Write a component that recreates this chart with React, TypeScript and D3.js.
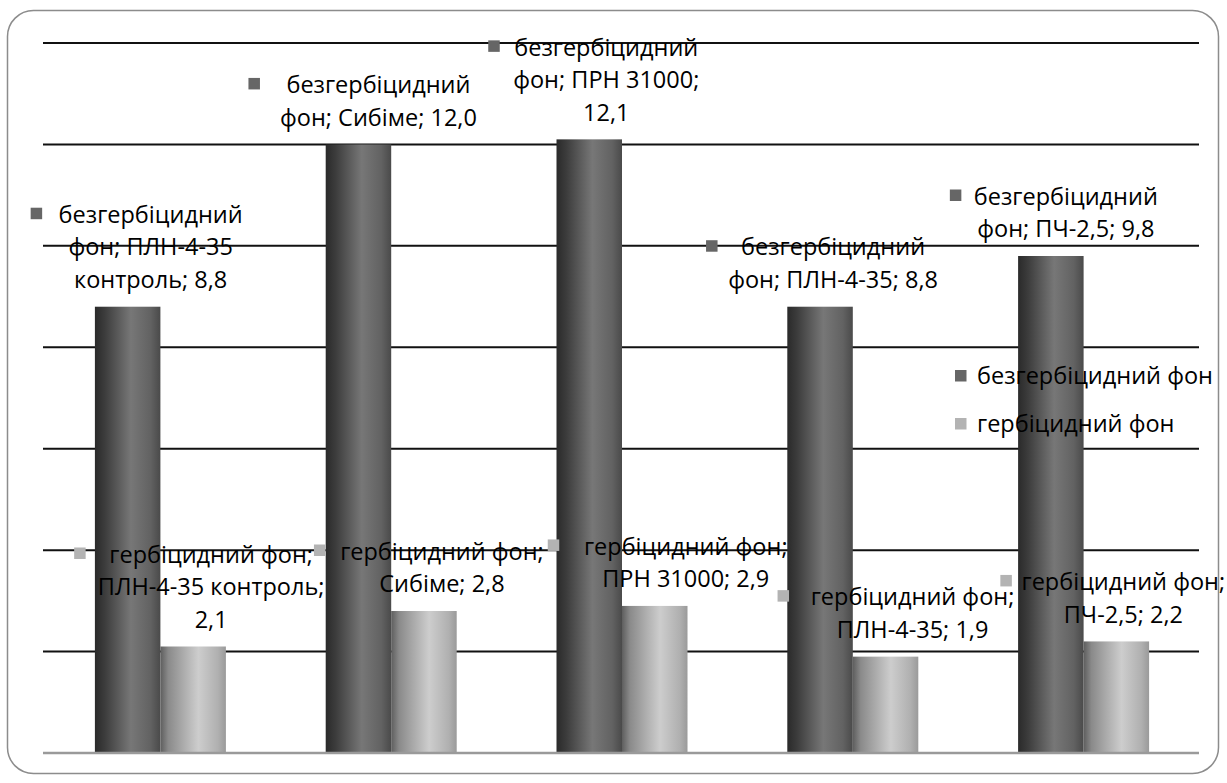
import React from "react";
import * as d3 from "d3";

const categories = ["ПЛН-4-35 контроль", "Сибіме", "ПРН 31000", "ПЛН-4-35", "ПЧ-2,5"];
const seriesNames = ["безгербіцидний фон", "гербіцидний фон"];
const valuesNoHerb = [8.8, 12.0, 12.1, 8.8, 9.8];
const valuesHerb = [2.1, 2.8, 2.9, 1.9, 2.2];
const yTicks = [0, 2, 4, 6, 8, 10, 12, 14];

// label layout: word indices where lines break, text-centre offset and key offset
const breaksNoHerb = [[1, 3], [1], [1, 4], [1], [1]];
const breaksHerb = [[2, 4], [2], [2], [2], [2]];
const dxNoHerb = [23, 20, 17, 13, 15];
const dxHerb = [18, 18, 31, 27, 7];
const keyNoHerb = [-120, -130, -118, -127, -116];
const keyHerb = [-137, -128, -138, -135, -123];

const W = 1227;
const H = 783;
const FONT = "'Open Sans', 'Noto Sans', sans-serif";
const FS = 23.5;
const LINE = 32.5;

const fmt = (v: number) => v.toFixed(1).replace(".", ",");

function wrap(text: string, breaks: number[]): string[] {
  const words = text.split(" ");
  const lines: string[] = [];
  let start = 0;
  for (const b of [...breaks, words.length]) {
    lines.push(words.slice(start, b).join(" "));
    start = b;
  }
  return lines;
}

export default function App() {
  const x = d3.scaleBand<string>().domain(categories).range([45, 1199]).paddingInner(0).paddingOuter(0);
  const y = d3.scaleLinear().domain([0, 14]).range([753, 43]);
  const barW = 65.5;
  const series = [valuesNoHerb, valuesHerb];
  const fills = ["url(#gDark)", "url(#gLight)"];
  const keyColors = ["#666666", "#b3b3b3"];
  const breaks = [breaksNoHerb, breaksHerb];
  const dxs = [dxNoHerb, dxHerb];
  const keys = [keyNoHerb, keyHerb];

  const barX = (ci: number, si: number) => {
    const c = x(categories[ci])! + x.bandwidth() / 2;
    return c - barW + si * barW;
  };

  return (
    <svg width={W} height={H} style={{ display: "block", position: "absolute", left: 0, top: 0 }} fontFamily={FONT}>
      <defs>
        <linearGradient id="gDark" x1="0" x2="1" y1="0" y2="0">
          <stop offset="0" stopColor="#2a2a2a" />
          <stop offset="0.15" stopColor="#3c3c3c" />
          <stop offset="0.55" stopColor="#777777" />
          <stop offset="0.85" stopColor="#626262" />
          <stop offset="1" stopColor="#4a4a4a" />
        </linearGradient>
        <linearGradient id="gLight" x1="0" x2="1" y1="0" y2="0">
          <stop offset="0" stopColor="#5e5e5e" />
          <stop offset="0.12" stopColor="#8a8a8a" />
          <stop offset="0.58" stopColor="#cdcdcd" />
          <stop offset="0.88" stopColor="#b0b0b0" />
          <stop offset="1" stopColor="#9a9a9a" />
        </linearGradient>
      </defs>
      <rect x={0} y={0} width={W} height={H} fill="#ffffff" />
      <rect x={7.5} y={10.5} width={1211} height={763} rx={26} ry={26} fill="#ffffff" stroke="#8c8c8c" strokeWidth={1.5} />
      {yTicks.slice(1).map((t) => (
        <line key={t} x1={43} x2={1199} y1={y(t)} y2={y(t)} stroke="#111111" strokeWidth={2} />
      ))}
      {series.map((vals, si) =>
        vals.map((v, ci) => (
          <rect key={`b${si}-${ci}`} x={barX(ci, si)} y={y(v)} width={barW} height={y(0) - y(v)} fill={fills[si]} />
        ))
      )}
      <line x1={43} x2={1199} y1={y(0)} y2={y(0)} stroke="#9a9a9a" strokeWidth={2.5} />
      {series.map((vals, si) =>
        vals.map((v, ci) => {
          const text = `${seriesNames[si]}; ${categories[ci]}; ${fmt(v)}`;
          const lines = wrap(text, breaks[si][ci]);
          const cx = barX(ci, si) + barW / 2 + dxs[si][ci];
          const lastY = y(v) - 27;
          const firstY = lastY - (lines.length - 1) * LINE;
          return (
            <g key={`l${si}-${ci}`}>
              <rect x={cx + keys[si][ci]} y={firstY - 7} width={11.5} height={11.5} fill={keyColors[si]} />
              {lines.map((ln, li) => (
                <text key={li} x={cx} y={firstY + li * LINE} dy="0.35em" textAnchor="middle" fontSize={FS} fill="#000">
                  {ln}
                </text>
              ))}
            </g>
          );
        })
      )}
      {seriesNames.map((n, si) => (
        <g key={`lg${si}`}>
          <rect x={955} y={370 + si * 48} width={11.5} height={11.5} fill={keyColors[si]} />
          <text x={977} y={376 + si * 48} dy="0.35em" fontSize={FS} fill="#000">
            {n}
          </text>
        </g>
      ))}
    </svg>
  );
}
